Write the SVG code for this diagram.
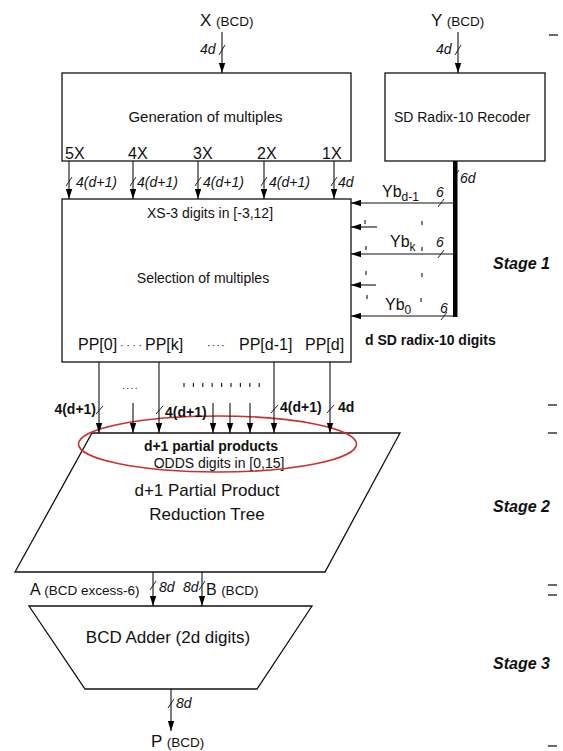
<svg xmlns="http://www.w3.org/2000/svg" width="563" height="751" viewBox="0 0 563 751">
<defs>
<marker id="ah" markerWidth="10" markerHeight="7" refX="10" refY="3.5" orient="auto" markerUnits="userSpaceOnUse"><path d="M0,0.3 L10,3.5 L0,6.7 z" fill="#000"/></marker>
<style>
text{font-family:"Liberation Sans",Arial,sans-serif;fill:#111}
.box{fill:#fff;stroke:#111;stroke-width:1.3}
.ln{stroke:#111;stroke-width:1.1;fill:none}
.ar{stroke:#111;stroke-width:1.1;fill:none;marker-end:url(#ah)}
.tk{stroke:#111;stroke-width:0.9;fill:none}
.it{font-style:italic;font-size:14px}
.bl{font-weight:bold;font-size:14px}
.st{font-weight:bold;font-style:italic;font-size:16px}
.sm{font-size:13.5px}
.dm{stroke:#222;stroke-width:1.2}
.rule{stroke:#444;stroke-width:1.6}
</style>
</defs>
<rect width="563" height="751" fill="#fff"/>

<g id="gen">
<rect class="box" x="62" y="73" width="289" height="88"/>
<text x="205.5" y="122" font-size="15" text-anchor="middle">Generation of multiples</text>
<text x="65" y="159" font-size="16">5X</text>
<text x="128" y="159" font-size="16">4X</text>
<text x="193" y="159" font-size="16">3X</text>
<text x="257" y="159" font-size="16">2X</text>
<text x="322" y="159" font-size="16">1X</text>
</g>

<g id="recoder">
<rect class="box" x="385" y="73" width="160" height="88"/>
<text x="462" y="122" font-size="14" text-anchor="middle">SD Radix-10 Recoder</text>
</g>

<g id="selection">
<rect class="box" x="62" y="199" width="289" height="163"/>
<text x="210" y="218" font-size="14" text-anchor="middle">XS-3 digits in [-3,12]</text>
<text x="203" y="283" font-size="14" text-anchor="middle">Selection of multiples</text>
<text x="78" y="350" font-size="16">PP[0]</text>
<text x="120" y="349" font-size="11" letter-spacing="2.5">····</text>
<text x="145" y="350" font-size="16">PP[k]</text>
<text x="207" y="349" font-size="11" letter-spacing="1">····</text>
<text x="239" y="350" font-size="16">PP[d-1]</text>
<text x="305" y="350" font-size="16">PP[d]</text>
</g>

<g id="reduction">
<polygon class="box" points="92,433 400,433 325,572 15,572"/>
<text x="211" y="451" class="bl" text-anchor="middle">d+1 partial products</text>
<text x="219" y="468" font-size="14" text-anchor="middle">ODDS digits in [0,15]</text>
<text x="207" y="496" font-size="17" text-anchor="middle">d+1 Partial Product</text>
<text x="207" y="520" font-size="17" text-anchor="middle">Reduction Tree</text>
<ellipse cx="217.5" cy="444" rx="139" ry="28" fill="none" stroke="#cc3030" stroke-width="1.6"/>
</g>

<g id="adder">
<polygon class="box" points="29,606 312,606 257,689 85,689"/>
<text x="168" y="643" font-size="17" text-anchor="middle">BCD Adder (2d digits)</text>
</g>

<g id="io-labels">
<text x="200" y="26" font-size="17">X <tspan class="sm">(BCD)</tspan></text>
<text x="431" y="26" font-size="17">Y <tspan class="sm">(BCD)</tspan></text>
<text x="30" y="595" font-size="16">A <tspan class="sm">(BCD excess-6)</tspan></text>
<text x="206" y="595" font-size="16">B <tspan class="sm">(BCD)</tspan></text>
<text x="151" y="747" font-size="17">P <tspan class="sm">(BCD)</tspan></text>
<text x="365" y="345" class="bl">d SD radix-10 digits</text>
</g>

<g id="stages">
<text x="493" y="269" class="st">Stage 1</text>
<text x="493" y="512" class="st">Stage 2</text>
<text x="493" y="669" class="st">Stage 3</text>
<line class="rule" x1="549" y1="35" x2="558" y2="35"/>
<line class="rule" x1="548" y1="405" x2="557" y2="405"/>
<line class="rule" x1="548" y1="433" x2="557" y2="433"/>
<line class="rule" x1="548" y1="585" x2="557" y2="585"/>
<line class="rule" x1="548" y1="595" x2="557" y2="595"/>
<line class="rule" x1="548" y1="746" x2="557" y2="746"/>
</g>

<g id="connectors">
<!-- inputs -->
<line class="ar" x1="222" y1="32" x2="222" y2="73"/>
<path class="tk" d="M219,55 L225,45"/>
<text x="200" y="54" class="it" font-size="13">4d</text>
<line class="ar" x1="458" y1="32" x2="458" y2="73"/>
<path class="tk" d="M455,55 L461,45"/>
<text x="436" y="54" class="it" font-size="13">4d</text>

<!-- multiples -->
<line class="ar" x1="69" y1="161" x2="69" y2="199"/>
<line class="ar" x1="133" y1="161" x2="133" y2="199"/>
<line class="ar" x1="198" y1="161" x2="198" y2="199"/>
<line class="ar" x1="264" y1="161" x2="264" y2="199"/>
<line class="ar" x1="334" y1="161" x2="334" y2="199"/>
<path class="tk" d="M66,186 L72,177"/>
<path class="tk" d="M130,186 L136,177"/>
<path class="tk" d="M195,186 L201,177"/>
<path class="tk" d="M261,186 L267,177"/>
<path class="tk" d="M331,186 L337,177"/>
<text x="76" y="187" class="it" font-size="14.5">4(d+1)</text>
<text x="137" y="187" class="it" font-size="14.5">4(d+1)</text>
<text x="203" y="187" class="it" font-size="14.5">4(d+1)</text>
<text x="269" y="187" class="it" font-size="14.5">4(d+1)</text>
<text x="338" y="187" class="it" font-size="14.5">4d</text>

<!-- recoder bus -->
<rect x="453" y="161" width="4.5" height="156" fill="#000"/>
<path class="tk" d="M454,178 L459,170"/>
<text x="460" y="183" class="it" font-size="13">6d</text>
<line class="ar" x1="455" y1="203" x2="351" y2="203"/>
<line class="ar" x1="455" y1="254" x2="351" y2="254"/>
<line class="ar" x1="455" y1="316" x2="351" y2="316"/>
<line class="ar" x1="377" y1="227" x2="351" y2="227"/>
<line class="ar" x1="376" y1="285" x2="351" y2="285"/>
<path class="tk" d="M438,207 L444,199"/>
<path class="tk" d="M438,258 L444,250"/>
<path class="tk" d="M441,320 L447,312"/>
<text x="436" y="197" class="it" font-size="13">6</text>
<text x="436" y="247" class="it" font-size="13">6</text>
<text x="440" y="313" class="it" font-size="13">6</text>
<text x="382" y="197" font-size="16">Yb<tspan font-size="12" dy="4">d-1</tspan></text>
<text x="390" y="247" font-size="16">Yb<tspan font-size="12" dy="4">k</tspan></text>
<text x="385" y="310" font-size="16">Yb<tspan font-size="12" dy="4">0</tspan></text>
<line class="dm" x1="365" y1="220" x2="365" y2="224"/>
<line class="dm" x1="366" y1="246" x2="366" y2="250"/>
<line class="dm" x1="366" y1="271" x2="366" y2="275"/>
<line class="dm" x1="367" y1="295" x2="367" y2="299"/>
<line class="dm" x1="422" y1="221" x2="422" y2="225"/>
<line class="dm" x1="422" y1="247" x2="422" y2="251"/>
<line class="dm" x1="422" y1="273" x2="422" y2="277"/>
<line class="dm" x1="421" y1="298" x2="421" y2="302"/>

<!-- partial products -->
<line class="ar" x1="99" y1="362" x2="99" y2="433"/>
<line class="ar" x1="159" y1="362" x2="159" y2="433"/>
<line class="ar" x1="274" y1="362" x2="274" y2="433"/>
<line class="ar" x1="330" y1="362" x2="330" y2="433"/>
<line class="ar" x1="133" y1="403" x2="133" y2="433"/>
<line class="ar" x1="213" y1="403" x2="213" y2="433"/>
<line class="ar" x1="230" y1="403" x2="230" y2="433"/>
<line class="ar" x1="250" y1="403" x2="250" y2="433"/>
<path class="tk" d="M96,414 L103,406"/>
<path class="tk" d="M156,414 L163,406"/>
<path class="tk" d="M271,413 L278,405"/>
<path class="tk" d="M327,413 L334,405"/>
<text x="96" y="414" class="bl" text-anchor="end">4(d+1)</text>
<text x="165" y="417" class="bl">4(d+1)</text>
<text x="280" y="412" class="bl">4(d+1)</text>
<text x="338" y="412" class="bl">4d</text>
<text x="122" y="389" font-size="10" letter-spacing="1.5">....</text>
<g class="dm">
<line x1="184" y1="383" x2="184" y2="387"/>
<line x1="193.4" y1="383" x2="193.4" y2="387"/>
<line x1="202.8" y1="383" x2="202.8" y2="387"/>
<line x1="212.2" y1="383" x2="212.2" y2="387"/>
<line x1="221.6" y1="383" x2="221.6" y2="387"/>
<line x1="231" y1="383" x2="231" y2="387"/>
<line x1="240.4" y1="383" x2="240.4" y2="387"/>
<line x1="249.8" y1="383" x2="249.8" y2="387"/>
<line x1="259.2" y1="383" x2="259.2" y2="387"/>
</g>

<!-- to adder -->
<line class="ar" x1="153" y1="572" x2="153" y2="606"/>
<line class="ar" x1="202" y1="572" x2="202" y2="606"/>
<path class="tk" d="M150,590 L156,581"/>
<path class="tk" d="M199,590 L205,581"/>
<text x="159" y="592" class="it" font-size="13">8d</text>
<text x="183" y="592" class="it" font-size="13">8d</text>

<!-- output -->
<line class="ar" x1="171" y1="689" x2="171" y2="731"/>
<path class="tk" d="M168,708 L174,699"/>
<text x="176" y="708" class="it" font-size="13">8d</text>
</g>
</svg>
